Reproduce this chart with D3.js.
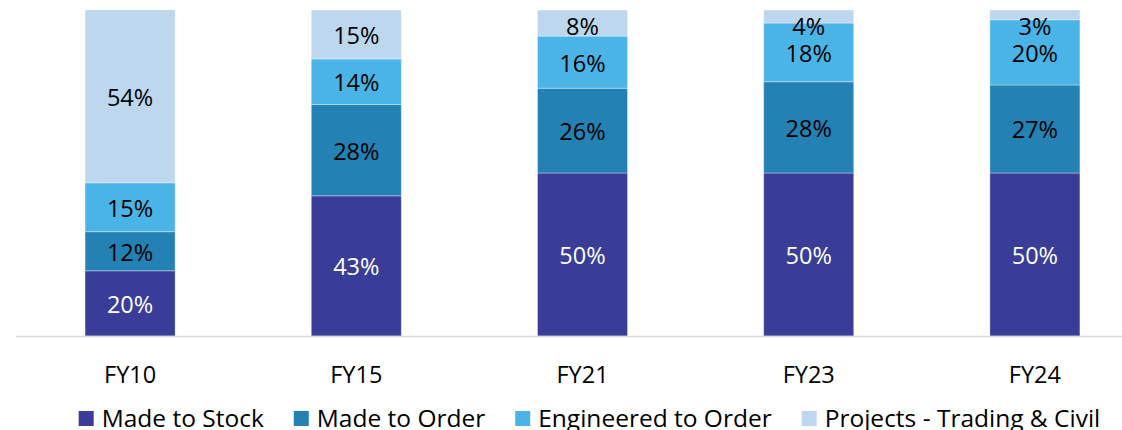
<!DOCTYPE html>
<html>
<head>
<meta charset="utf-8">
<script src="https://cdn.jsdelivr.net/npm/d3@7"></script>
<style>
  body { margin: 0; background: #fff; }
  svg { display: block; font-family: 'Open Sans', sans-serif; }
</style>
</head>
<body>
<div id="chart"></div>
<script>
const years = ['FY10', 'FY15', 'FY21', 'FY23', 'FY24'];
const seriesNames = ['Made to Stock', 'Made to Order', 'Engineered to Order', 'Projects - Trading & Civil'];
const madeToStock = [20, 43, 50, 50, 50];
const madeToOrder = [12, 28, 26, 28, 27];
const engineeredToOrder = [15, 14, 16, 18, 20];
const projects = [54, 15, 8, 4, 3];
const colors = ['#393D97', '#2481B4', '#4BB4E6', '#BDD7EE'];
const labelColors = ['#fff', '#000', '#000', '#000'];

const width = 1122;
const height = 430;
const plotTop = 10;
const plotBottom = 336;

const rows = years.map((y, i) => ({
  year: y,
  s0: madeToStock[i],
  s1: madeToOrder[i],
  s2: engineeredToOrder[i],
  s3: projects[i]
}));

const stacked = d3.stack().keys(['s0', 's1', 's2', 's3'])(rows);

const svg = d3.select('#chart')
              .append('svg')
              .attr('width', width)
              .attr('height', height);

const xScale = d3.scaleBand()
                 .domain(years)
                 .range([17, 1148])
                 .paddingInner(0.602)
                 .paddingOuter(0.301);

const yScale = d3.scaleLinear()
                 .domain([0, 100])
                 .range([plotBottom, plotTop]);

svg.append('clipPath')
   .attr('id', 'plot-clip')
   .append('rect')
   .attr('x', 0)
   .attr('y', plotTop)
   .attr('width', width)
   .attr('height', plotBottom - plotTop);

const plot = svg.append('g').attr('clip-path', 'url(#plot-clip)');

stacked.forEach((layer, k) => {
  plot.selectAll('.seg' + k)
      .data(layer)
      .enter()
      .append('rect')
      .attr('class', 'seg' + k)
      .attr('x', (d) => xScale(d.data.year))
      .attr('y', (d) => yScale(d[1]))
      .attr('width', xScale.bandwidth())
      .attr('height', (d) => yScale(d[0]) - yScale(d[1]))
      .style('fill', colors[k])
      .style('stroke', '#ffffff')
      .style('stroke-opacity', 0.35)
      .style('stroke-width', 1);
});

// x axis
const xAxis = d3.axisBottom(xScale).tickSize(0).tickPadding(0);
const axisG = svg.append('g')
                 .attr('transform', 'translate(0,' + (plotBottom + 0.5) + ')')
                 .call(xAxis);
axisG.select('.domain')
     .attr('d', 'M16,0H' + width)
     .style('stroke', '#D9D9D9')
     .style('stroke-width', 1.5);
axisG.selectAll('.tick text')
     .attr('y', 46)
     .attr('dy', 0)
     .style('font-family', "'Open Sans', sans-serif")
     .style('font-size', '23.5px')
     .style('fill', '#000');

// data labels
stacked.forEach((layer, k) => {
  svg.selectAll('.lab' + k)
     .data(layer)
     .enter()
     .append('text')
     .attr('x', (d) => xScale(d.data.year) + xScale.bandwidth() / 2)
     .attr('y', (d) => {
       const y1 = Math.max(yScale(d[1]), plotTop);
       const mid = (yScale(d[0]) + y1) / 2;
       return Math.max(mid, 25) + 1 + 8.5;
     })
     .attr('text-anchor', 'middle')
     .style('font-size', '23.5px')
     .style('fill', labelColors[k])
     .text((d) => (d[1] - d[0]) + '%');
});

// legend
const legend = svg.append('g');
const items = legend.selectAll('g')
                    .data(seriesNames)
                    .enter()
                    .append('g');
items.append('rect')
     .attr('width', 15)
     .attr('height', 15)
     .attr('y', 411)
     .style('fill', (d, i) => colors[i]);
items.append('text')
     .attr('x', 23)
     .attr('y', 427)
     .style('font-size', '24.5px')
     .style('fill', '#000')
     .text((d) => d);

const itemGap = 30;
let cx = 0;
items.each(function () {
  const w = d3.select(this).select('text').node().getComputedTextLength();
  d3.select(this).attr('transform', 'translate(' + cx + ',0)');
  cx += 23 + w + itemGap;
});
const total = cx - itemGap;
legend.attr('transform', 'translate(' + (589.5 - total / 2) + ',0)');
</script>
</body>
</html>
